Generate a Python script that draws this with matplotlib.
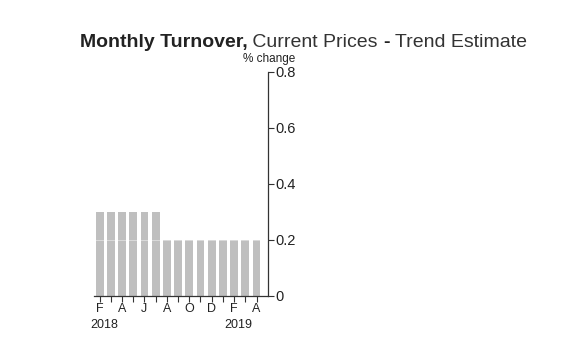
import matplotlib
matplotlib.use("Agg")
import matplotlib.pyplot as plt

months = ["F", "M", "A", "M", "J", "J", "A", "S", "O", "N", "D", "J", "F", "M", "A"]
values = [0.3, 0.3, 0.3, 0.3, 0.3, 0.3, 0.2, 0.2, 0.2, 0.2, 0.2, 0.2, 0.2, 0.2, 0.2]
year_labels = {0: "2018", 12: "2019"}
yticks = [0, 0.2, 0.4, 0.6, 0.8]
ytick_labels = ["0", "0.2", "0.4", "0.6", "0.8"]

plt.rcParams['font.family'] = ['Liberation Sans Narrow', 'Liberation Sans', 'DejaVu Sans']

fig = plt.figure(figsize=(5.82, 3.53), dpi=100)
ax = fig.add_axes([0.1615, 0.1615, 0.2985, 0.6346])

x = list(range(len(values)))
ax.bar(x, values, width=0.7, color="#bfbfbf", zorder=2)
for t in yticks[1:]:
    ax.axhline(t, color="white", lw=0.6, alpha=0.5, zorder=3)

ax.set_xlim(-0.5, 15.0)
ax.set_ylim(0, 0.8)

ax.yaxis.tick_right()
ax.set_yticks(yticks)
ax.set_yticklabels(ytick_labels, fontsize=10.5, color="#222222")
ax.tick_params(axis="y", direction="out", length=4, width=0.8, pad=1.5, color="#333333")

ax.set_xticks(x)
ax.set_xticklabels([m if i % 2 == 0 else "" for i, m in enumerate(months)], fontsize=9, color="#222222")
ax.tick_params(axis="x", direction="out", length=4, width=0.8, pad=1, color="#333333")

for s in ["top", "left"]:
    ax.spines[s].set_visible(False)
for s in ["bottom", "right"]:
    ax.spines[s].set_linewidth(0.9)
    ax.spines[s].set_color("#333333")

for i, yl in year_labels.items():
    ax.text(i + 0.4, -0.082, yl, ha="center", va="top", fontsize=9, color="#222222",
            transform=ax.transData, clip_on=False)

ax.text(1.01, 1.03, "% change", transform=ax.transAxes, ha="center", va="bottom",
        fontsize=8.5, color="#222222")

# title built from pieces so that parts can be bold
fs = 14
ty = 0.868
r = fig.canvas.get_renderer()
xpos = 0.137
pieces = [("Monthly Turnover,", "bold", "#222222"), (" Current Prices ", "normal", "#333333"),
          ("-", "bold", "#222222"), (" Trend Estimate", "normal", "#333333")]
for txt, w, c in pieces:
    t = fig.text(xpos, ty, txt, fontsize=fs, fontweight=w, family=["Liberation Sans", "DejaVu Sans"],
                 color=c, ha="left", va="baseline")
    xpos = t.get_window_extent(renderer=r).x1 / fig.bbox.width

fig.savefig("out.png", dpi=100)
